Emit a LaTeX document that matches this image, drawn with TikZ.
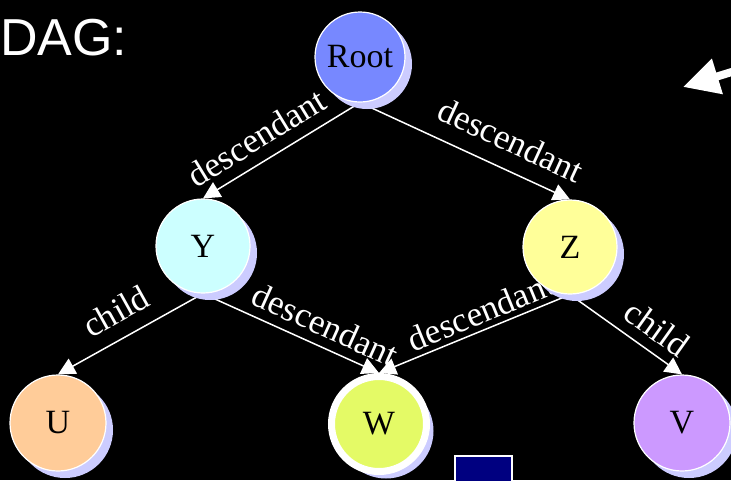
\documentclass[tikz,border=0pt]{standalone}
\usepackage{fontspec}
\setmainfont{Liberation Serif}
\newfontfamily\dagsans{Liberation Sans}
\usetikzlibrary{arrows.meta,shadows,backgrounds}

\definecolor{rootblue}{RGB}{119,136,255}
\definecolor{ycyan}{RGB}{204,255,255}
\definecolor{zyellow}{RGB}{255,255,153}
\definecolor{upeach}{RGB}{255,204,153}
\definecolor{wlime}{RGB}{228,250,102}
\definecolor{vpurple}{RGB}{204,153,255}
\definecolor{lavshade}{RGB}{204,204,255}
\definecolor{navybox}{RGB}{0,0,128}

\begin{document}
\begin{tikzpicture}[x=1pt,y=-1pt,
  vertex/.style={circle, draw=white, line width=1.2pt, minimum size=#1,
    inner sep=0pt, text=black, font=\fontsize{34}{34}\selectfont,
    drop shadow={shadow xshift=7pt, shadow yshift=-7pt, opacity=1, fill=lavshade}},
  link/.style={draw=white, line width=1.5pt, -{Triangle[length=17pt,width=17pt]}},
  lbl/.style={sloped, text=white, inner sep=0pt, font=\fontsize{35}{35}\selectfont}
]
\useasboundingbox (0,0) rectangle (731,480);
\begin{pgfonlayer}{background}
  \fill[black] (0,0) rectangle (731,480);
\end{pgfonlayer}

% heading
\node[anchor=base west, text=white, inner sep=0pt,
      font=\dagsans\fontsize{52}{52}\selectfont] (title) at (0,55) {DAG:};

% vertices of the DAG
\node[vertex=90pt, fill=rootblue] (root) at (360,57) {Root};
\node[vertex=94pt, fill=ycyan] (y) at (203,246) {Y};
\node[vertex=94pt, fill=zyellow] (z) at (570,247) {Z};
\node[vertex=96pt, fill=upeach] (u) at (58,423) {U};
\node[vertex=95pt, fill=wlime, line width=7pt] (w) at (379,424) {W};
\node[vertex=96pt, fill=vpurple] (v) at (682,423) {V};

% edges run underneath the vertices
\begin{pgfonlayer}{background}
  \draw[link] (root.south) -- node[lbl, pos=0.58, above=11pt] {descendant} (y.north);
  \draw[link] (root.south) -- node[lbl, pos=0.66, above=16pt] {descendant} (z.north);
  \draw[link] (y.south) -- node[lbl, pos=0.51, above=14pt] {child} (u.north);
  \draw[link] (y.south) -- node[lbl, pos=0.645, above=9pt] {descendant} (w.north);
  \draw[link] (z.south) -- node[lbl, pos=0.43, above=5pt] {descendant} (w.north);
  \draw[link] (z.south) -- node[lbl, pos=0.66, above=10pt] {child} (v.north);
\end{pgfonlayer}

% pointer arrow at the right edge
\coordinate (ptrtail) at (769,60.5);
\coordinate (ptrtip) at (683,87);
\draw[white, line width=8pt, -{Triangle[length=36pt,width=35pt]}] (ptrtail) -- (ptrtip);

% box at the lower edge
\node[draw=white, line width=1.5pt, fill=navybox, anchor=north west,
      minimum width=57pt, minimum height=40pt, inner sep=0pt] (navy) at (454,455) {};
\end{tikzpicture}
\end{document}
